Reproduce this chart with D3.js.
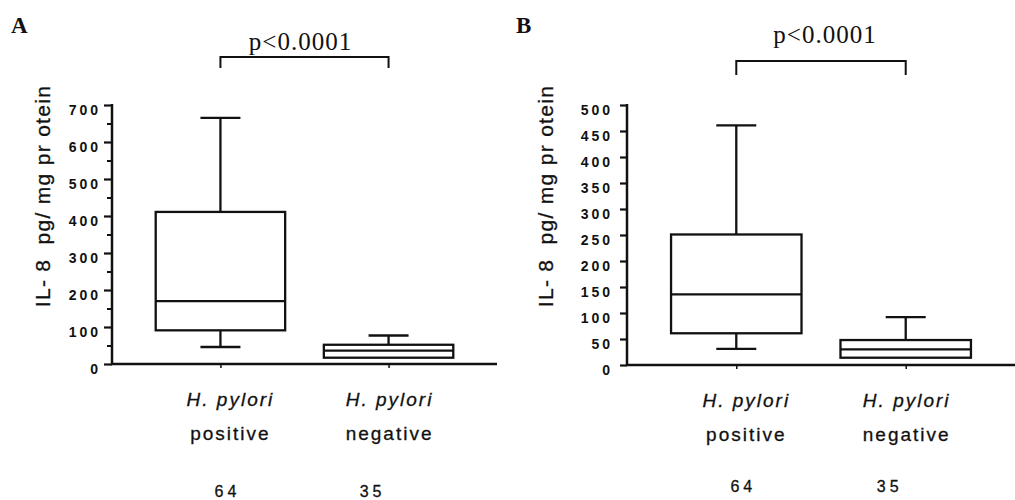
<!DOCTYPE html>
<html>
<head>
<meta charset="utf-8">
<script src="https://cdn.jsdelivr.net/npm/d3@7"></script>
<style>
    body { margin: 0; background: #fff; }
    svg { display: block; }
    .axis path, .axis line { stroke: #111; }
    .tick-label { font-family: Arial, "Liberation Sans", sans-serif; font-weight: bold; font-size: 14px; letter-spacing: 3px; fill: #111; }
    .cat-label { font-family: Arial, "Liberation Sans", sans-serif; font-size: 19px; letter-spacing: 2px; fill: #111; stroke: #111; stroke-width: 0.3px; }
    .n-label { font-family: Arial, "Liberation Sans", sans-serif; font-size: 16px; letter-spacing: 4px; fill: #111; stroke: #111; stroke-width: 0.3px; }
    .y-title { font-family: Arial, "Liberation Sans", sans-serif; font-size: 21px; letter-spacing: 1.3px; fill: #111; stroke: #111; stroke-width: 0.3px; white-space: pre; }
    .p-label { font-family: "Times New Roman", "Liberation Serif", serif; font-size: 25px; letter-spacing: 1px; fill: #111; }
    .panel-label { font-family: "Times New Roman", "Liberation Serif", serif; font-size: 23px; font-weight: bold; fill: #111; }
    .box { fill: none; stroke: #111; stroke-width: 2.3px; }
</style>
</head>
<body>
<div id="chart"></div>
<script>
    // data
    var categories = ["positive", "negative"];
    var sampleSizes = [64, 35];
    var pValueText = "p<0.0001";
    var yTitle = "IL- 8  pg/ mg pr otein";

    // panel A (IL-8, pg/mg protein)
    var ticksA = [0, 100, 200, 300, 400, 500, 600, 700];
    var minorTicksA = [50, 150, 250, 350, 450, 550, 650];
    var lowA = [46, 17];
    var q1A = [91, 17];
    var medA = [170, 36];
    var q3A = [411, 52];
    var highA = [665, 77];

    // panel B
    var ticksB = [0, 50, 100, 150, 200, 250, 300, 350, 400, 450, 500];
    var lowB = [31, 14];
    var q1B = [61, 14];
    var medB = [136, 30];
    var q3B = [251, 48];
    var highB = [461, 92];

    var W = 1015, H = 500;

    var svg = d3.select("#chart").append("svg")
        .attr("width", W)
        .attr("height", H);

    // layout per panel
    var panels = [
        { name: "A", ticks: ticksA, minor: minorTicksA, yMax: 700, low: lowA, q1: q1A, med: medA, q3: q3A, high: highA,
          x0: 112, x1: 497, yTop: 105, yBottom: 364, tickLen: 8, tickPad: 3,
          labelX: 11, bracketY: 57, bracketDrop: 11, pY: 50, pShift: -4, titleX: 50, nY: 497 },
        { name: "B", ticks: ticksB, minor: [], yMax: 500, low: lowB, q1: q1B, med: medB, q3: q3B, high: highB,
          x0: 627, x1: 1015, yTop: 105, yBottom: 365, tickLen: 7, tickPad: 7,
          labelX: 516, bracketY: 61, bracketDrop: 14, pY: 43, pShift: 4, titleX: 553, nY: 492 }
    ];

    var labelShift = [10, 1];   // category labels sit a bit right of the tick
    var nShift = [7, -16];

    panels.forEach(function (p) {
        var g = svg.append("g");

        var y = d3.scaleLinear().domain([0, p.yMax]).range([p.yBottom, p.yTop]);
        var x = d3.scalePoint().domain(categories).range([p.x0, p.x1]).padding(0.645);
        var step = x.step();
        var boxW = step * 0.77;
        var capW = 40;

        // minor ticks
        if (p.minor.length) {
            g.append("g")
                .attr("class", "axis")
                .attr("transform", "translate(" + p.x0 + ",0)")
                .call(d3.axisLeft(y).tickValues(p.minor).tickSize(5).tickFormat(""))
                .call(function (s) {
                    s.select(".domain").remove();
                    s.selectAll("line").attr("stroke-width", 2);
                });
        }

        // y axis
        var yAxis = g.append("g")
            .attr("class", "axis")
            .attr("transform", "translate(" + p.x0 + ",0)")
            .call(d3.axisLeft(y).tickValues(p.ticks).tickSize(p.tickLen).tickSizeOuter(0).tickPadding(p.tickPad));
        yAxis.select(".domain").attr("stroke-width", 2.5)
            .attr("d", "M0," + (p.yBottom + 1) + "V" + (p.yTop - 1));
        yAxis.selectAll(".tick line").attr("stroke-width", 2.2);
        yAxis.selectAll(".tick text")
            .attr("class", "tick-label")
            .attr("dy", "0.68em");
        yAxis.attr("font-size", null).attr("font-family", null);

        // x axis
        var xAxis = g.append("g")
            .attr("class", "axis")
            .attr("transform", "translate(0," + p.yBottom + ")")
            .call(d3.axisBottom(x).tickSize(4).tickSizeOuter(0).tickFormat(""));
        xAxis.select(".domain").attr("stroke-width", 2.5)
            .attr("d", "M" + (p.x0 - 1) + ",0H" + p.x1);
        xAxis.selectAll(".tick line").attr("stroke-width", 1.5);

        // boxes
        var idx = d3.range(categories.length);
        var boxes = g.selectAll(".bx").data(idx).enter().append("g");

        boxes.append("line")
            .attr("class", "box")
            .attr("x1", function (i) { return x(categories[i]); })
            .attr("x2", function (i) { return x(categories[i]); })
            .attr("y1", function (i) { return y(p.high[i]); })
            .attr("y2", function (i) { return y(p.q3[i]); });
        boxes.append("line")
            .attr("class", "box")
            .attr("x1", function (i) { return x(categories[i]); })
            .attr("x2", function (i) { return x(categories[i]); })
            .attr("y1", function (i) { return y(p.q1[i]); })
            .attr("y2", function (i) { return y(p.low[i]); });
        // caps
        boxes.append("line")
            .attr("class", "box")
            .attr("x1", function (i) { return x(categories[i]) - capW / 2; })
            .attr("x2", function (i) { return x(categories[i]) + capW / 2; })
            .attr("y1", function (i) { return y(p.high[i]); })
            .attr("y2", function (i) { return y(p.high[i]); });
        boxes.filter(function (i) { return p.low[i] < p.q1[i]; })
            .append("line")
            .attr("class", "box")
            .attr("x1", function (i) { return x(categories[i]) - capW / 2; })
            .attr("x2", function (i) { return x(categories[i]) + capW / 2; })
            .attr("y1", function (i) { return y(p.low[i]); })
            .attr("y2", function (i) { return y(p.low[i]); });
        boxes.append("rect")
            .attr("class", "box")
            .attr("x", function (i) { return x(categories[i]) - boxW / 2; })
            .attr("width", boxW)
            .attr("y", function (i) { return y(p.q3[i]); })
            .attr("height", function (i) { return y(p.q1[i]) - y(p.q3[i]); });
        boxes.append("line")
            .attr("class", "box")
            .attr("x1", function (i) { return x(categories[i]) - boxW / 2; })
            .attr("x2", function (i) { return x(categories[i]) + boxW / 2; })
            .attr("y1", function (i) { return y(p.med[i]); })
            .attr("y2", function (i) { return y(p.med[i]); });

        // category labels
        boxes.append("text")
            .attr("class", "cat-label")
            .attr("text-anchor", "middle")
            .attr("x", function (i) { return x(categories[i]) + labelShift[i]; })
            .attr("y", p.yBottom + 42)
            .style("font-style", "italic")
            .text("H. pylori");
        boxes.append("text")
            .attr("class", "cat-label")
            .attr("text-anchor", "middle")
            .attr("x", function (i) { return x(categories[i]) + labelShift[i]; })
            .attr("y", p.yBottom + 76)
            .text(function (i) { return categories[i]; });
        boxes.append("text")
            .attr("class", "n-label")
            .attr("text-anchor", "middle")
            .attr("x", function (i) { return x(categories[i]) + nShift[i]; })
            .attr("y", p.nY)
            .text(function (i) { return sampleSizes[i]; });

        // significance bracket
        var bx0 = x(categories[0]), bx1 = x(categories[1]);
        g.append("path")
            .attr("fill", "none")
            .attr("stroke", "#111")
            .attr("stroke-width", 2)
            .attr("d", "M" + bx0 + "," + (p.bracketY + p.bracketDrop) + "V" + p.bracketY + "H" + bx1 + "V" + (p.bracketY + p.bracketDrop));
        g.append("text")
            .attr("class", "p-label")
            .attr("text-anchor", "middle")
            .attr("x", (bx0 + bx1) / 2 + p.pShift)
            .attr("y", p.pY)
            .text(pValueText);

        // y title
        g.append("text")
            .attr("class", "y-title")
            .attr("text-anchor", "middle")
            .attr("transform", "translate(" + p.titleX + "," + 196 + ") rotate(-90)")
            .text(yTitle);

        // panel letter
        g.append("text")
            .attr("class", "panel-label")
            .attr("x", p.labelX)
            .attr("y", 33)
            .text(p.name);
    });
</script>
</body>
</html>
